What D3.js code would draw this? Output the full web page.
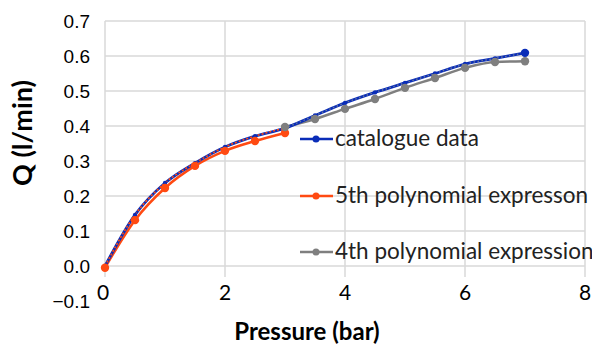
<!DOCTYPE html>
<html>
<head>
<meta charset="utf-8">
<script src="https://cdn.jsdelivr.net/npm/d3@7"></script>
<style>
html,body{margin:0;padding:0;background:#fff;}
svg{display:block;}
</style>
</head>
<body>
<svg id="chart" width="595" height="347"></svg>
<script>
// ---- data ----
const catPressure = [0,0.5,1,1.5,2,2.5,3,3.5,4,4.5,5,5.5,6,6.5,7];
const catFlow     = [0,0.146,0.237,0.294,0.340,0.371,0.394,0.430,0.466,0.496,0.523,0.550,0.577,0.593,0.609];
const poly5Pressure = [0,0.5,1,1.5,2,2.5,3];
const poly5Flow     = [-0.005,0.131,0.223,0.286,0.329,0.357,0.380];
const poly4Pressure = [3,3.5,4,4.5,5,5.5,6,6.5,7];
const poly4Flow     = [0.397,0.420,0.449,0.477,0.509,0.537,0.566,0.583,0.585];
const xTicks = [0,2,4,6,8];
const yTicks = [-0.1,0,0.1,0.2,0.3,0.4,0.5,0.6,0.7];
const seriesNames = ["catalogue data","5th polynomial expresson","4th polynomial expression"];
const seriesColors = ["#0a2db8","#ff4a12","#7f7f7f"];

const svg = d3.select("#chart");
const x = d3.scaleLinear().domain([0,8]).range([105,585]);
const y = d3.scaleLinear().domain([-0.1,0.7]).range([301,21]);

// grid
const grid = svg.append("g");
grid.selectAll("line.h").data(yTicks.filter(v=>v>=0)).enter().append("line")
  .attr("x1",x(0)).attr("x2",x(8)).attr("y1",d=>y(d)).attr("y2",d=>y(d))
  .attr("stroke","#d9d9d9").attr("stroke-width",1.5);
grid.selectAll("line.v").data(xTicks).enter().append("line")
  .attr("x1",d=>x(d)).attr("x2",d=>x(d)).attr("y1",y(0.7)).attr("y2",277)
  .attr("stroke","#d9d9d9").attr("stroke-width",1.5);

// y tick labels
svg.append("g").selectAll("text").data(yTicks).enter().append("text")
  .attr("x",90).attr("y",d=>y(d)).attr("dy","0.36em")
  .attr("text-anchor","end")
  .attr("font-family","'Liberation Sans', Arial, sans-serif")
  .attr("font-size",19).attr("fill","#000")
  .text(d=>d3.format(".1f")(d));

// x tick labels
svg.append("g").selectAll("text").data(xTicks).enter().append("text")
  .attr("x",d=>x(d)-(d===0?2:0)).attr("y",292).attr("dy","0.36em")
  .attr("text-anchor","middle")
  .attr("font-family","Lato, 'Open Sans', sans-serif")
  .attr("font-size",21).attr("fill","#000")
  .text(d=>d);

// axis titles
svg.append("text").attr("x",307).attr("y",331).attr("dy","0.36em")
  .attr("text-anchor","middle").attr("font-family","Lato, sans-serif")
  .attr("font-weight","bold").attr("font-size",24).attr("fill","#000")
  .text("Pressure (bar)");
svg.append("text").attr("transform","translate(22,133) rotate(-90)")
  .attr("dy","0.36em")
  .attr("text-anchor","middle").attr("font-family","Lato, sans-serif")
  .attr("font-weight","bold").attr("font-size",27).attr("fill","#000")
  .text("Q (l/min)");

const line = d3.line().x(d=>x(d[0])).y(d=>y(d[1])).curve(d3.curveMonotoneX);
const cat = catPressure.map((p,i)=>[p,catFlow[i]]);
const p5 = poly5Pressure.map((p,i)=>[p,poly5Flow[i]]);
const p4 = poly4Pressure.map((p,i)=>[p,poly4Flow[i]]);

// series lines
svg.append("path").datum(p5).attr("d",line).attr("fill","none")
  .attr("stroke",seriesColors[1]).attr("stroke-width",2.5);
svg.append("path").datum(p4).attr("d",line).attr("fill","none")
  .attr("stroke",seriesColors[2]).attr("stroke-width",2.5);
svg.append("path").datum(cat).attr("d",line).attr("fill","none")
  .attr("stroke",seriesColors[0]).attr("stroke-width",2.8);
// dotted fit overlays on catalogue curve
svg.append("path").datum(cat.filter(d=>d[0]<=3)).attr("d",line).attr("fill","none")
  .attr("stroke",seriesColors[1]).attr("stroke-width",1.6).attr("stroke-dasharray","2,2");
svg.append("path").datum(cat.filter(d=>d[0]>=3)).attr("d",line).attr("fill","none")
  .attr("stroke","#6a7a9a").attr("stroke-width",1.4).attr("stroke-dasharray","1.5,2.5");

// markers
svg.append("g").selectAll("circle").data(cat).enter().append("circle")
  .attr("cx",d=>x(d[0])).attr("cy",d=>y(d[1])).attr("r",2.2).attr("fill",seriesColors[0]);
svg.append("g").selectAll("circle").data(p5).enter().append("circle")
  .attr("cx",d=>x(d[0])).attr("cy",d=>y(d[1])).attr("r",4.2).attr("fill",seriesColors[1]);
svg.append("g").selectAll("circle").data(p4).enter().append("circle")
  .attr("cx",d=>x(d[0])).attr("cy",d=>y(d[1])).attr("r",4.2).attr("fill",seriesColors[2]);
svg.append("circle").attr("cx",x(7)).attr("cy",y(catFlow[catFlow.length-1])).attr("r",4.2).attr("fill",seriesColors[0]);

// legend
svg.append("clipPath").attr("id","lc").append("rect").attr("x",290).attr("y",100).attr("width",302).attr("height",180);
const leg = svg.append("g").attr("clip-path","url(#lc)");
const legY = [139,196,252];
seriesNames.forEach((n,i)=>{
  const g = leg.append("g");
  g.append("line").attr("x1",300).attr("x2",333).attr("y1",legY[i]).attr("y2",legY[i])
    .attr("stroke",seriesColors[i]).attr("stroke-width",2.5);
  g.append("circle").attr("cx",316).attr("cy",legY[i]).attr("r",3.5).attr("fill",seriesColors[i]);
  g.append("text").attr("x",335).attr("y",legY[i]).attr("dy","0.33em")
    .attr("font-family","Lato, sans-serif").attr("font-size",22.5).attr("fill","#222")
    .text(n);
});
</script>
</body>
</html>
